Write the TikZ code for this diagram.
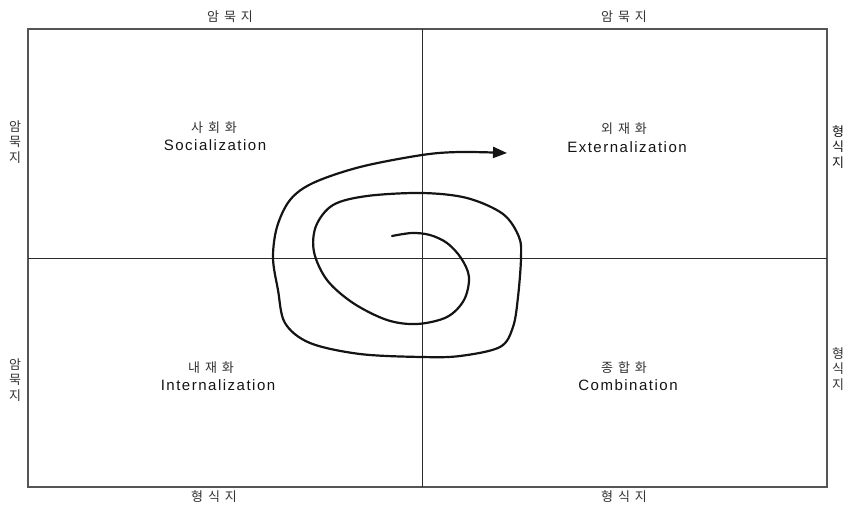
\documentclass[tikz,border=0pt]{standalone}
\usepackage{fontspec}
\setmainfont{Liberation Sans}[LetterSpace=10]
\newfontfamily\kofont{Noto Sans CJK KR}[LetterSpace=38]
\newfontfamily\kovfont{Noto Sans CJK KR}
\usepackage{tikz}
\usetikzlibrary{arrows.meta,positioning}
\usepackage{xcolor}
\definecolor{kmink}{RGB}{20,20,20}
\definecolor{kmtext}{RGB}{50,50,50}
\definecolor{kmframe}{RGB}{85,85,85}
\tikzset{
    frame/.style={
        draw=kmframe,line width=1.3pt
    },
    divider/.style={
        draw=kmink!90,line width=0.8pt
    },
    kolabel/.style={
        inner sep=0pt,text=kmtext,font=\kofont\fontsize{13}{15}\selectfont
    },
    enlabel/.style={
        inner sep=0pt,text=kmink,font=\fontsize{15}{17}\selectfont
    },
    sidelabel/.style={
        inner sep=0pt,align=center,text=kmtext,
        font=\kovfont\fontsize{13}{15.5}\selectfont
    },
    spiral/.style={
        -{Triangle[length=14pt,width=11pt]},line width=2.2pt,draw=kmink,
        line cap=round,line join=round
    }
}

\begin{document}
\begin{tikzpicture}[x=1pt,y=-1pt]
\useasboundingbox (0,0) rectangle (851,507);

% frame and quadrants
\draw[frame] (28,29) rectangle (827,487);
\draw[divider] (422,29) -- (422,487);
\draw[divider] (28,258) -- (827,258);

% outer labels
\node[kolabel] (tl) at (230,17) {암묵지};
\node[kolabel] (tr) at (624,17) {암묵지};
\node[kolabel] (bl) at (214,497) {형식지};
\node[kolabel] (br) at (624,497) {형식지};

\node[sidelabel] (lu) at (15,142) {암\\묵\\지};
\node[sidelabel] (ll) at (15,380) {암\\묵\\지};
\node[sidelabel,text=kmink] (ru) at (838,147) {형\\식\\지};
\node[sidelabel] (rl) at (838,369) {형\\식\\지};

% quadrant names
\node[kolabel] (soc) at (214,128) {사회화};
\node[enlabel] (socE) at (215,145) {Socialization};
\node[kolabel] (ext) at (624,129) {외재화};
\node[enlabel] (extE) at (627,147) {Externalization};
\node[kolabel] (int) at (211,368) {내재화};
\node[enlabel] (intE) at (218,385) {Internalization};
\node[kolabel] (com) at (624,368) {종합화};
\node[enlabel] (comE) at (628,385) {Combination};

% knowledge spiral
\draw[spiral] plot[smooth,tension=0.55] coordinates {
(392,236) (412,233) (430,235) (447,243) (461,258) (469,277)
(464,300) (447,317) (417,324) (387,320) (353,303) (327,280)
(314,252) (316,226) (333,205) (367,196) (422,193) (467,198)
(503,214) (519,237) (521,258) (518,297) (513,327) (500,347)
(460,356) (422,357) (360,354) (310,343) (285,323) (278,290)
(273,258) (277,227) (290,200) (313,183) (360,167) (422,155)
(460,152) (507,153)};

\end{tikzpicture}
\end{document}
